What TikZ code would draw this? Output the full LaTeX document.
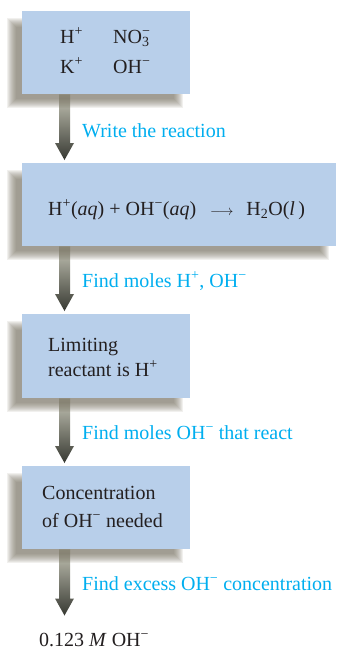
\documentclass[tikz,border=0pt]{standalone}
\usepackage{fontspec}
\setmainfont{Liberation Serif}
\usetikzlibrary{calc,backgrounds}
\definecolor{boxblue}{RGB}{184,207,234}
\definecolor{labcyan}{RGB}{0,174,239}
\definecolor{ink}{RGB}{35,31,32}
\definecolor{shadowc}{RGB}{113,107,91}
\definecolor{arrtop}{RGB}{195,195,180}
\definecolor{arrbot}{RGB}{55,57,50}
\newcommand\up[1]{\textsuperscript{#1}}
\newcommand\boxshadow[1]{%
  \foreach \r in {5,4,3,2,1,0,-1,-2,-3,-4}{%
    \fill[shadowc, fill opacity=0.1] ($(#1.north west)+(-10-\r,12-\r)$) rectangle ($(#1.south east)+(-12+\r,9+\r)$);}}
\newcommand\flowarrow[2]{%
  \shade[top color=arrtop, bottom color=arrbot]
    ($(#1)+(-5.5,0)$) -- ($(#1)+(5.5,0)$) -- ($(#2)+(5.5,-17)$) -- ($(#2)+(9.5,-17)$) --
    (#2) -- ($(#2)+(-9.5,-17)$) -- ($(#2)+(-5.5,-17)$) -- cycle;}
\begin{document}
\begin{tikzpicture}[x=1pt,y=-1pt,font=\fontsize{20}{24}\selectfont,
  flowbox/.style={fill=boxblue, draw=none, anchor=north west, inner sep=0pt},
  boxtext/.style={text=ink, anchor=base west, inner sep=0pt},
  steplabel/.style={text=labcyan, anchor=base west, inner sep=0pt}]
\useasboundingbox (0,0) rectangle (338,649);
% boxes
\node[flowbox, minimum width=168pt, minimum height=83pt] (b1) at (22,11) {};
\node[flowbox, minimum width=314pt, minimum height=83pt] (b2) at (22,163) {};
\node[flowbox, minimum width=168pt, minimum height=84pt] (b3) at (22,314) {};
\node[flowbox, minimum width=168pt, minimum height=83pt] (b4) at (22,466) {};
% box texts
\node[boxtext] (t1a) at ($(b1.north west)+(38,32)$) {H\up{+}};
\node[boxtext] (t1b) at ($(b1.north west)+(91,32)$) {NO\rlap{\textsubscript{3}}\up{−}};
\node[boxtext] (t1c) at ($(b1.north west)+(38,62)$) {K\up{+}};
\node[boxtext] (t1d) at ($(b1.north west)+(91,62)$) {OH\up{−}};
\node[boxtext] (t2) at ($(b2.north west)+(26,52)$) {H\up{+}(\textit{aq}) + OH\up{−}(\textit{aq})\hspace{14pt}{\fontsize{15}{18}\selectfont$\longrightarrow$}\hspace{13pt}H\textsubscript{2}O(\textit{l}\,)};
\node[boxtext] (t3a) at ($(b3.north west)+(26,37)$) {Limiting};
\node[boxtext] (t3b) at ($(b3.north west)+(26,62)$) {reactant is H\up{+}};
\node[boxtext] (t4a) at ($(b4.north west)+(20,33)$) {Concentration};
\node[boxtext] (t4b) at ($(b4.north west)+(20,61)$) {of OH\up{−} needed};
% result
\node[boxtext] (res) at (39,646) {0.123 \textit{M} OH\up{−}};
% arrow labels
\node[steplabel] (l1) at (82,137) {Write the reaction};
\node[steplabel] (l2) at (82,287) {Find moles H\up{+}, OH\up{−}};
\node[steplabel] (l3) at (82,439) {Find moles OH\up{−} that react};
\node[steplabel] (l4) at (82,590) {Find excess OH\up{−} concentration};
% connector end points
\coordinate (a1s) at ($(b1.south west)+(42.5,0)$);
\coordinate (a1e) at ($(b2.north west)+(42.5,-3)$);
\coordinate (a2s) at ($(b2.south west)+(42.5,0)$);
\coordinate (a2e) at ($(b3.north west)+(42.5,-3)$);
\coordinate (a3s) at ($(b3.south west)+(42.5,0)$);
\coordinate (a3e) at ($(b4.north west)+(42.5,-3)$);
\coordinate (a4s) at ($(b4.south west)+(42.5,0)$);
\coordinate (a4e) at ($(res.north west)+(25.5,-17)$);
\begin{scope}[on background layer]
  \flowarrow{a1s}{a1e}
  \flowarrow{a2s}{a2e}
  \flowarrow{a3s}{a3e}
  \flowarrow{a4s}{a4e}
  \boxshadow{b1}
  \boxshadow{b2}
  \boxshadow{b3}
  \boxshadow{b4}
\end{scope}
\end{tikzpicture}
\end{document}
